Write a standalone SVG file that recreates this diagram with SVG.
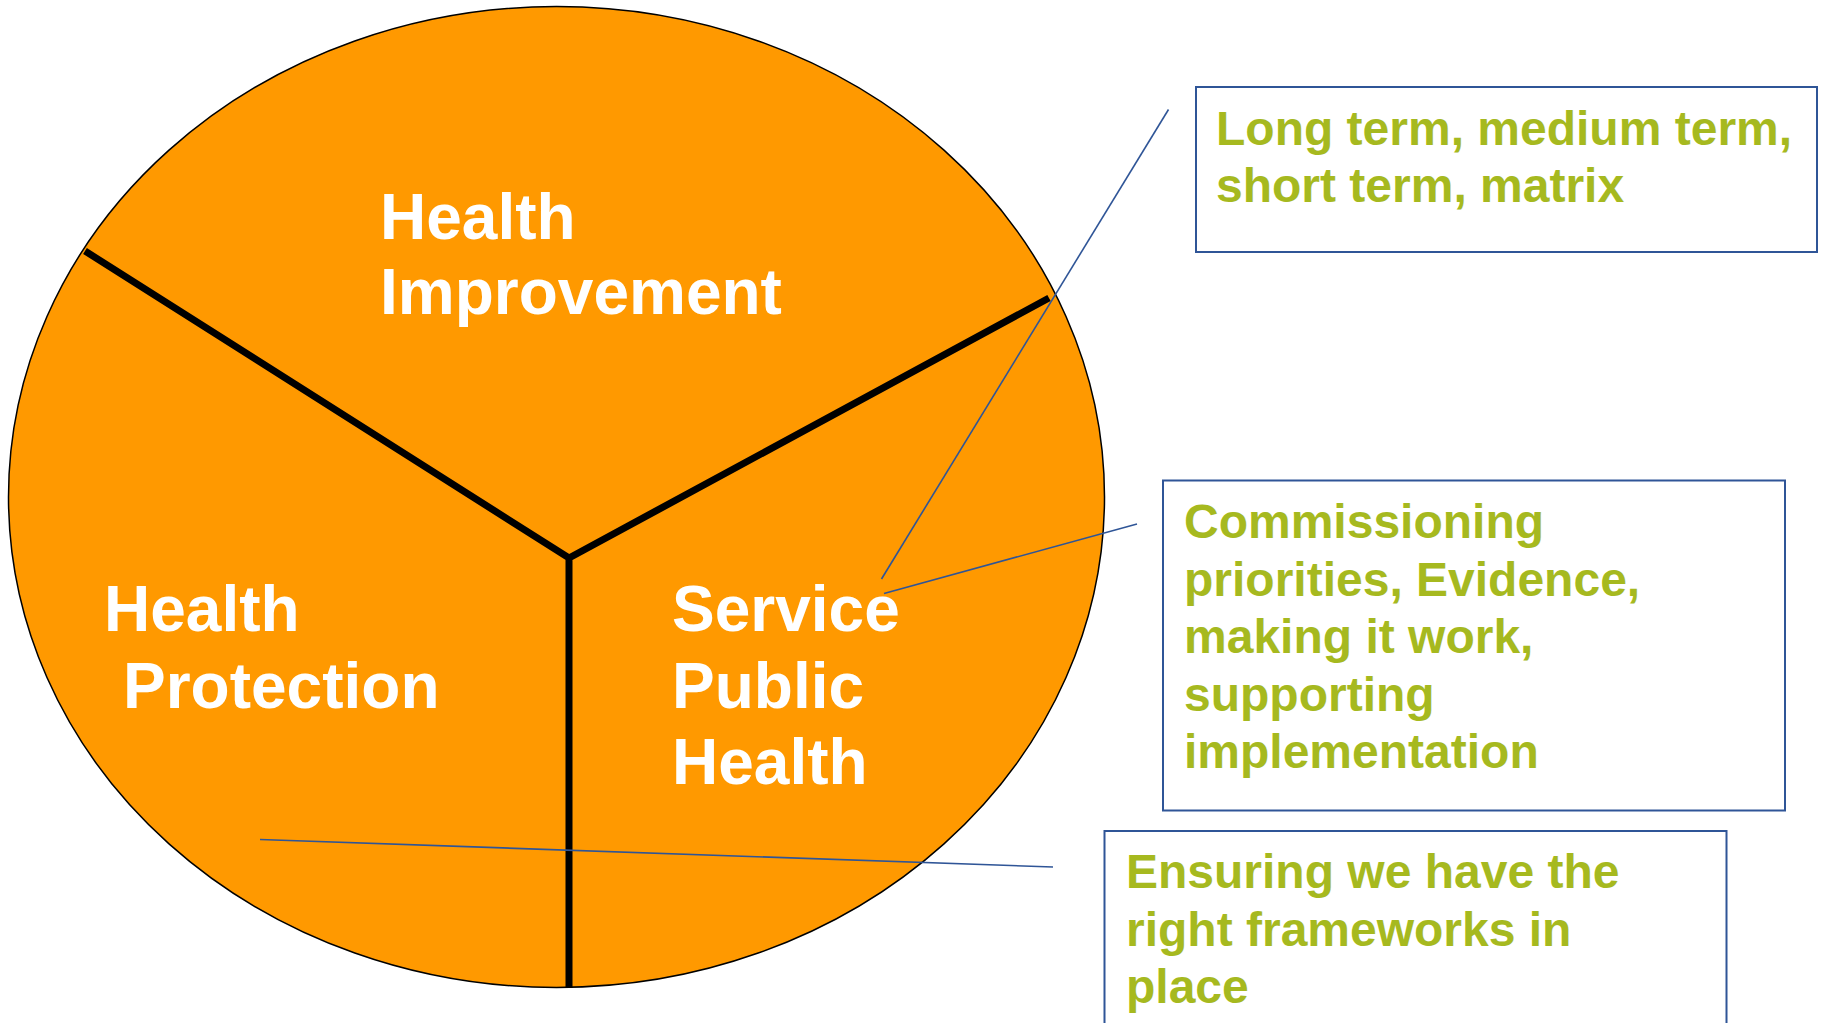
<svg xmlns="http://www.w3.org/2000/svg" width="1824" height="1023" viewBox="0 0 1824 1023">
<style>
.lbl{font-family:"Liberation Sans",Arial,sans-serif;font-weight:bold;font-size:64px;fill:#FFFFFF}
.note{font-family:"Liberation Sans",Arial,sans-serif;font-weight:bold;font-size:48px;fill:#A6B91F}
.box{fill:#FFFFFF;stroke:#2F5597;stroke-width:2}
.div{stroke:#000000;stroke-width:7;fill:none}
.conn{stroke:#2F5597;stroke-width:1.6;fill:none}
</style>
<rect width="1824" height="1023" fill="#FFFFFF"/>
<g id="circle">
<ellipse cx="556.5" cy="497" rx="548" ry="490.5" fill="#FF9900" stroke="#000000" stroke-width="1.5"/>
<path class="div" d="M85 251 L569 558 L1049 298 M569 558 L569 988"/>
</g>
<g id="health-improvement">
<text class="lbl" x="380" y="239">Health</text>
<text class="lbl" x="380" y="314">Improvement</text>
</g>
<g id="health-protection">
<text class="lbl" x="104" y="631">Health</text>
<text class="lbl" x="123" y="708">Protection</text>
</g>
<g id="service-public-health">
<text class="lbl" x="672" y="631">Service</text>
<text class="lbl" x="672" y="708">Public</text>
<text class="lbl" x="672" y="784">Health</text>
</g>
<g id="connectors">
<line class="conn" x1="1168.5" y1="109.5" x2="881.5" y2="579"/>
<line class="conn" x1="884" y1="593.5" x2="1137" y2="524"/>
<line class="conn" x1="260" y1="839.5" x2="1053" y2="867"/>
</g>
<g id="note-long-term">
<rect class="box" x="1196" y="87" width="621" height="165"/>
<text class="note" x="1216" y="145">Long term, medium term,</text>
<text class="note" x="1216" y="202">short term, matrix</text>
</g>
<g id="note-commissioning">
<rect class="box" x="1163" y="480.5" width="622" height="330"/>
<text class="note" x="1184" y="538">Commissioning</text>
<text class="note" x="1184" y="596">priorities, Evidence,</text>
<text class="note" x="1184" y="653">making it work,</text>
<text class="note" x="1184" y="711">supporting</text>
<text class="note" x="1184" y="768">implementation</text>
</g>
<g id="note-frameworks">
<rect class="box" x="1104.5" y="831" width="622" height="200"/>
<text class="note" x="1126" y="888">Ensuring we have the</text>
<text class="note" x="1126" y="946">right frameworks in</text>
<text class="note" x="1126" y="1003">place</text>
</g>
</svg>
